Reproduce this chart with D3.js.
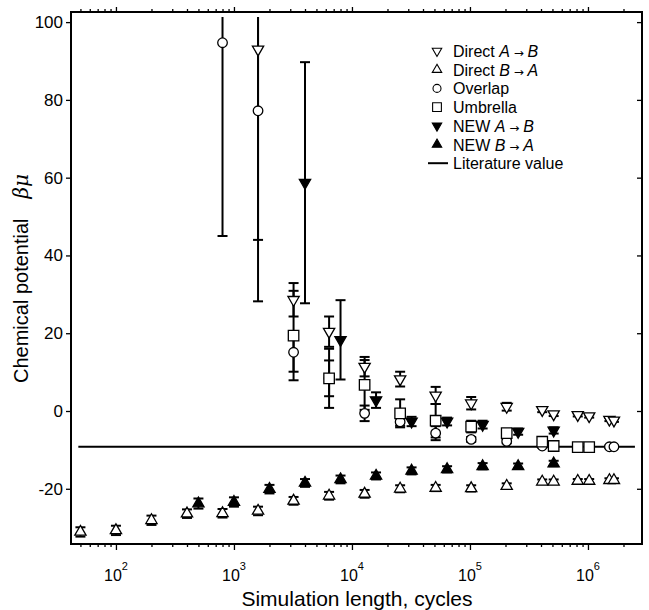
<!DOCTYPE html>
<html>
<head>
<meta charset="utf-8">
<script src="https://cdn.jsdelivr.net/npm/d3@7"></script>
<style>
  body { margin: 0; background: #fff; }
  text { font-family: "Liberation Sans", Arial, sans-serif; fill: #000; }
</style>
</head>
<body>
<script>
//simulation lengths for the direct / overlap / umbrella runs
var directX = [50, 100, 200, 400, 800, 1600, 3200, 6400, 12800, 25600, 51200, 102400, 204800, 409600, 512000, 819200, 1024000, 1520000, 1660000];
var directAB = [null, null, null, null, null, 93, 28.6, 20.4, 11.4, 8.2, 4.0, 2.0, 1.1, 0.3, -0.8, -1.0, -1.3, -2.2, -2.4];
var directABErr = [0, 0, 0, 0, 0, 49, 4.3, 3.9, 2.5, 1.9, 2.2, 1.6, 1.0, 0.6, 0.5, 0.4, 0.4, 0.4, 0.4];
var directBA = [-31.1, -30.7, -28.1, -26.4, -26.3, -25.7, -23.1, -21.8, -21.3, -20.0, -19.8, -19.9, -19.3, -18.2, -18.2, -18.0, -18.0, -17.8, -17.8];
var directBAErr = [1.2, 1.2, 1.2, 1.1, 1.1, 1.1, 1.0, 1.0, 1.0, 0.9, 0.8, 0.8, 0.7, 0.6, 0.6, 0.5, 0.5, 0.5, 0.5];
var overlap = [null, null, null, null, 94.7, 77.2, 15.1, 8.4, -0.6, -2.8, -5.7, -7.3, -7.8, -9.0, null, null, null, -9.2, -9.2];
var overlapErr = [0, 0, 0, 0, 49.7, 49, 5, 4.6, 2, 1, 1.8, 0.6, 0.5, 0.4, 0, 0, 0, 0.3, 0.3];
var umbrella = [null, null, null, null, null, null, 19.4, 8.4, 6.7, -0.6, -2.5, -4.0, -5.7, -7.9, -9.0, -9.3, -9.3, null, null];
var umbrellaErr = [0, 0, 0, 0, 0, 0, 11.5, 7.6, 6.4, 3.6, 4.3, 1.5, 0.8, 0.5, 0.4, 0.4, 0.4, 0, 0];

//simulation lengths for the NEW method
var newX = [500, 1000, 2000, 4000, 8000, 16000, 32000, 64000, 128000, 256000, 512000];
var newAB = [null, null, null, 58.7, 18.3, 2.8, -2.7, -2.7, -3.5, -5.3, -5.0];
var newABErr = [0, 0, 0, 31, 10.2, 2, 1.2, 1, 1, 0.8, 0.8];
var newBA = [-23.8, -23.4, -20.1, -18.5, -17.6, -16.7, -15.4, -15.0, -14.2, -14.2, -13.5];
var newBAErr = [1.3, 1.2, 1.1, 1.0, 1.0, 0.9, 0.9, 0.8, 0.8, 0.7, 0.7];

//literature value line
var litX = [48, 2500000];
var litValue = -9.2;

//axis ticks
var yTicks = [-20, 0, 20, 40, 60, 80, 100];
var xMajor = [100, 1000, 10000, 100000, 1000000];
var xExp = ["2", "3", "4", "5", "6"];

var width = 649, height = 610;
var m = {left: 71, right: 642, top: 12, bottom: 544};

var svg = d3.select("body").append("svg")
    .attr("width", width)
    .attr("height", height);

var x = d3.scaleLog().domain([41.6, 2.87e6]).range([m.left, m.right]);
var y = d3.scaleLinear().domain([-34.2, 102.6]).range([m.bottom, m.top]);

//minor ticks 2..9 of each decade inside domain
var xMinor = [];
[10, 100, 1000, 10000, 100000, 1000000].forEach(function(d){
    for (var k = 2; k <= 9; k++) {
        var v = d * k;
        if (v > 41.6 && v < 2.87e6) xMinor.push(v);
    }
});

//clip for the data
svg.append("clipPath").attr("id", "clip")
    .append("rect")
    .attr("x", m.left).attr("y", m.top + 5)
    .attr("width", m.right - m.left).attr("height", m.bottom - m.top - 5);

//axes
var gl = svg.append("g").attr("transform", "translate(" + m.left + ",0)")
    .call(d3.axisLeft(y).tickValues(yTicks).tickSize(5).tickPadding(3)
        .tickFormat(function(d){ return String(d); })); //plain hyphen like the original
gl.selectAll("text").style("font-size", "17px");

svg.append("g").attr("transform", "translate(" + m.right + ",0)")
    .call(d3.axisLeft(y).tickValues(yTicks).tickSize(5).tickFormat(""));

svg.append("g").attr("transform", "translate(0," + m.bottom + ")")
    .call(d3.axisBottom(x).tickValues(xMajor).tickSize(6).tickFormat(""));
svg.append("g").attr("transform", "translate(0," + m.bottom + ")")
    .call(d3.axisBottom(x).tickValues(xMinor).tickSize(3).tickFormat(""));
svg.append("g").attr("transform", "translate(0," + m.top + ")")
    .call(d3.axisTop(x).tickValues(xMajor).tickSize(5).tickFormat(""));
svg.append("g").attr("transform", "translate(0," + m.top + ")")
    .call(d3.axisTop(x).tickValues(xMinor).tickSize(3).tickFormat(""));

svg.selectAll(".domain").remove();
svg.selectAll(".tick line").attr("stroke", "#000").attr("stroke-width", 1.3);

//x tick labels with superscript exponent
xMajor.forEach(function(v, i){
    var t = svg.append("text")
        .attr("x", x(v))
        .attr("y", 581)
        .attr("text-anchor", "middle")
        .style("font-size", "16px")
        .text("10");
    t.append("tspan")
        .attr("dy", -11)
        .style("font-size", "11px")
        .text(xExp[i]);
});

//frame
svg.append("rect")
    .attr("x", m.left).attr("y", m.top)
    .attr("width", m.right - m.left).attr("height", m.bottom - m.top)
    .attr("fill", "none").attr("stroke", "#000").attr("stroke-width", 2);

//axis titles
svg.append("text")
    .attr("x", 357).attr("y", 606)
    .attr("text-anchor", "middle")
    .style("font-size", "21px")
    .text("Simulation length, cycles");

var ylab = svg.append("text")
    .attr("transform", "translate(28,383) rotate(-90)")
    .style("font-size", "20px")
    .text("Chemical potential");
ylab.append("tspan")
    .attr("dx", 20)
    .style("font-style", "italic")
    .style("font-family", "'DejaVu Serif', serif")
    .text("\u03b2\u03bc");

var plot = svg.append("g").attr("clip-path", "url(#clip)");

//literature line
plot.append("line")
    .attr("x1", x(litX[0])).attr("x2", x(litX[1]))
    .attr("y1", y(litValue)).attr("y2", y(litValue))
    .attr("stroke", "#000").attr("stroke-width", 2);

function rows(xs, vals, errs){
    var out = [];
    for (var i = 0; i < xs.length; i++) {
        if (vals[i] !== null) out.push({x: xs[i], v: vals[i], e: errs[i]});
    }
    return out;
}

//series definitions, drawn in this order
var series = [
    {name: "overlap", data: rows(directX, overlap, overlapErr), type: d3.symbolCircle, size: 72, rot: 0, fill: "#fff"},
    {name: "umbrella", data: rows(directX, umbrella, umbrellaErr), type: d3.symbolSquare, size: 110, rot: 0, fill: "#fff"},
    {name: "directBA", data: rows(directX, directBA, directBAErr), type: d3.symbolTriangle, size: 55, rot: 0, fill: "#fff"},
    {name: "directAB", data: rows(directX, directAB, directABErr), type: d3.symbolTriangle, size: 55, rot: 180, fill: "#fff"},
    {name: "newBA", data: rows(newX, newBA, newBAErr), type: d3.symbolTriangle, size: 55, rot: 0, fill: "#000"},
    {name: "newAB", data: rows(newX, newAB, newABErr), type: d3.symbolTriangle, size: 55, rot: 180, fill: "#000"}
];

//error bars first
series.forEach(function(s){
    var g = plot.append("g").attr("class", "err " + s.name);
    var bars = s.data.filter(function(d){ return d.e > 0; });
    g.selectAll(".bar").data(bars).enter().append("line")
        .attr("x1", function(d){ return x(d.x); })
        .attr("x2", function(d){ return x(d.x); })
        .attr("y1", function(d){ return y(d.v - d.e); })
        .attr("y2", function(d){ return y(d.v + d.e); })
        .attr("stroke", "#000").attr("stroke-width", 2);
    [-1, 1].forEach(function(sign){
        g.selectAll(".cap" + sign).data(bars).enter().append("line")
            .attr("x1", function(d){ return x(d.x) - 5; })
            .attr("x2", function(d){ return x(d.x) + 5; })
            .attr("y1", function(d){ return y(d.v + sign * d.e); })
            .attr("y2", function(d){ return y(d.v + sign * d.e); })
            .attr("stroke", "#000").attr("stroke-width", 2);
    });
});

//markers
series.forEach(function(s){
    plot.append("g").attr("class", "pts " + s.name)
        .selectAll("path").data(s.data).enter().append("path")
        .attr("d", d3.symbol().type(s.type).size(s.size))
        .attr("transform", function(d){
            return "translate(" + x(d.x) + "," + y(d.v) + ") rotate(" + s.rot + ")";
        })
        .attr("fill", s.fill)
        .attr("stroke", "#000")
        .attr("stroke-width", 1.3);
});

//legend
var legendItems = [
    {label: ["Direct ", "A", " \u2192 ", "B"], s: series[3]},
    {label: ["Direct ", "B", " \u2192 ", "A"], s: series[2]},
    {label: ["Overlap"], s: series[0]},
    {label: ["Umbrella"], s: series[1]},
    {label: ["NEW ", "A", " \u2192 ", "B"], s: series[5]},
    {label: ["NEW ", "B", " \u2192 ", "A"], s: series[4]},
    {label: ["Literature value"], s: null}
];

var legend = svg.append("g").attr("class", "legend");
legendItems.forEach(function(item, i){
    var ly = 51 + i * 18.7;
    if (item.s) {
        legend.append("path")
            .attr("d", d3.symbol().type(item.s.type).size(item.s.size * 0.7))
            .attr("transform", "translate(437," + ly + ") rotate(" + item.s.rot + ")")
            .attr("fill", item.s.fill)
            .attr("stroke", "#000")
            .attr("stroke-width", 1.1);
    } else {
        legend.append("line")
            .attr("x1", 428).attr("x2", 448)
            .attr("y1", ly).attr("y2", ly)
            .attr("stroke", "#000").attr("stroke-width", 2);
    }
    var t = legend.append("text")
        .attr("x", 453).attr("y", ly + 6)
        .style("font-size", "16px");
    item.label.forEach(function(part, j){
        var ts = t.append("tspan").text(part);
        if (j === 1 || j === 3) ts.style("font-style", "italic");
        if (j === 2) ts.style("font-family", "'DejaVu Sans', sans-serif").style("font-size", "12px");
    });
});
</script>
</body>
</html>
